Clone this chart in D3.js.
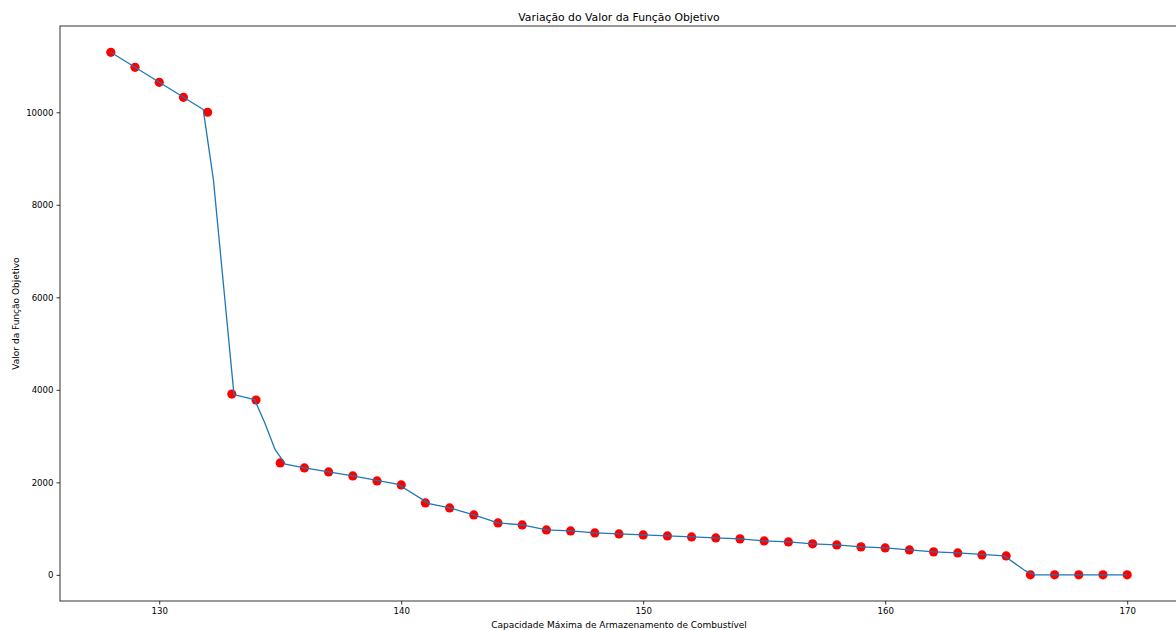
<!DOCTYPE html>
<html>
<head>
<meta charset="utf-8">
<script src="https://d3js.org/d3.v7.min.js"></script>
<style>
  body { margin: 0; background: #fff; }
  text { font-family: "DejaVu Sans", sans-serif; }
</style>
</head>
<body>
<svg width="1176" height="630"></svg>
<script>
// capacidade (x) e valor da funcao objetivo nos pontos marcados
var capacidade = [128, 129, 130, 131, 132, 133, 134, 135, 136, 137, 138, 139, 140, 141, 142, 143, 144, 145, 146, 147, 148, 149,
  150, 151, 152, 153, 154, 155, 156, 157, 158, 159, 160, 161, 162, 163, 164, 165, 166, 167, 168, 169, 170];
var valores = [11296, 10972, 10648, 10324, 10000, 3909, 3780, 2419, 2311, 2225, 2138, 2030, 1944, 1555, 1447, 1296, 1123, 1080, 972, 950, 907, 886,
  864, 842, 821, 799, 778, 734, 713, 670, 648, 605, 583, 540, 497, 475, 432, 410, 0, 0, 0, 0, 0];

// vertices da linha azul (a linha corta os cantos)
var linhaX = [128, 131.82, 132.24, 133.09, 133.94, 134.36, 134.79, 135.21, 136, 137, 138, 139.88, 141.15, 142, 143, 144, 145, 146, 147, 148, 149,
  150, 151, 152, 153, 154, 155, 156, 157, 158, 159, 160, 161, 162, 163, 164.91, 165.76, 166.18, 170];
var linhaY = [11296, 10059, 8538, 3897, 3788, 3290, 2705, 2396, 2311, 2225, 2138, 1954, 1539, 1447, 1296, 1123, 1080, 972, 950, 907, 886,
  864, 842, 821, 799, 778, 734, 713, 670, 648, 605, 583, 540, 497, 475, 412, 99, 0, 0];

var xTicks = [130, 140, 150, 160, 170];
var yTicks = [0, 2000, 4000, 6000, 8000, 10000];

var svg = d3.select("svg"),
    mLeft = 60, mRight = 1178, mTop = 26, mBottom = 601;

var x = d3.scaleLinear().domain([125.9, 172.1]).range([mLeft, mRight]);
var y = d3.scaleLinear().domain([-565, 11865]).range([mBottom, mTop]);

var xAxis = svg.append("g")
    .attr("transform", "translate(0," + mBottom + ")")
    .call(d3.axisBottom(x).tickValues(xTicks).tickSize(3.5).tickPadding(3).tickFormat(d3.format("d")));
var yAxis = svg.append("g")
    .attr("transform", "translate(" + mLeft + ",0)")
    .call(d3.axisLeft(y).tickValues(yTicks).tickSize(3.5).tickPadding(3).tickFormat(d3.format("d")));

[xAxis, yAxis].forEach(function(g) {
  g.select(".domain").remove();
  g.selectAll("text").attr("font-size", "8.6px").attr("fill", "#000").attr("font-family", "DejaVu Sans");
  g.selectAll("line").attr("stroke", "#000").attr("stroke-width", 0.8);
});

// moldura
svg.append("rect")
    .attr("x", mLeft).attr("y", mTop)
    .attr("width", mRight - mLeft).attr("height", mBottom - mTop)
    .attr("fill", "none").attr("stroke", "#000").attr("stroke-width", 0.8);

svg.append("g")
  .selectAll("circle")
  .data(capacidade)
  .enter().append("circle")
    .attr("cx", function(d) { return x(d); })
    .attr("cy", function(d, i) { return y(valores[i]); })
    .attr("r", 4.6)
    .attr("fill", "#ff0000");

var linha = d3.line()
    .x(function(d) { return x(d); })
    .y(function(d, i) { return y(linhaY[i]); });

svg.append("path")
    .datum(linhaX)
    .attr("d", linha)
    .attr("fill", "none")
    .attr("stroke", "#1f77b4")
    .attr("stroke-width", 1.3)
    .attr("stroke-linejoin", "round");

svg.append("text")
    .attr("x", (mLeft + mRight) / 2).attr("y", 21)
    .attr("text-anchor", "middle")
    .attr("font-size", "10.8px")
    .text("Variação do Valor da Função Objetivo");

svg.append("text")
    .attr("x", (mLeft + mRight) / 2).attr("y", 628)
    .attr("text-anchor", "middle")
    .attr("font-size", "9px")
    .text("Capacidade Máxima de Armazenamento de Combustível");

svg.append("text")
    .attr("transform", "translate(19," + ((mTop + mBottom) / 2) + ") rotate(-90)")
    .attr("text-anchor", "middle")
    .attr("font-size", "9px")
    .text("Valor da Função Objetivo");
</script>
</body>
</html>
